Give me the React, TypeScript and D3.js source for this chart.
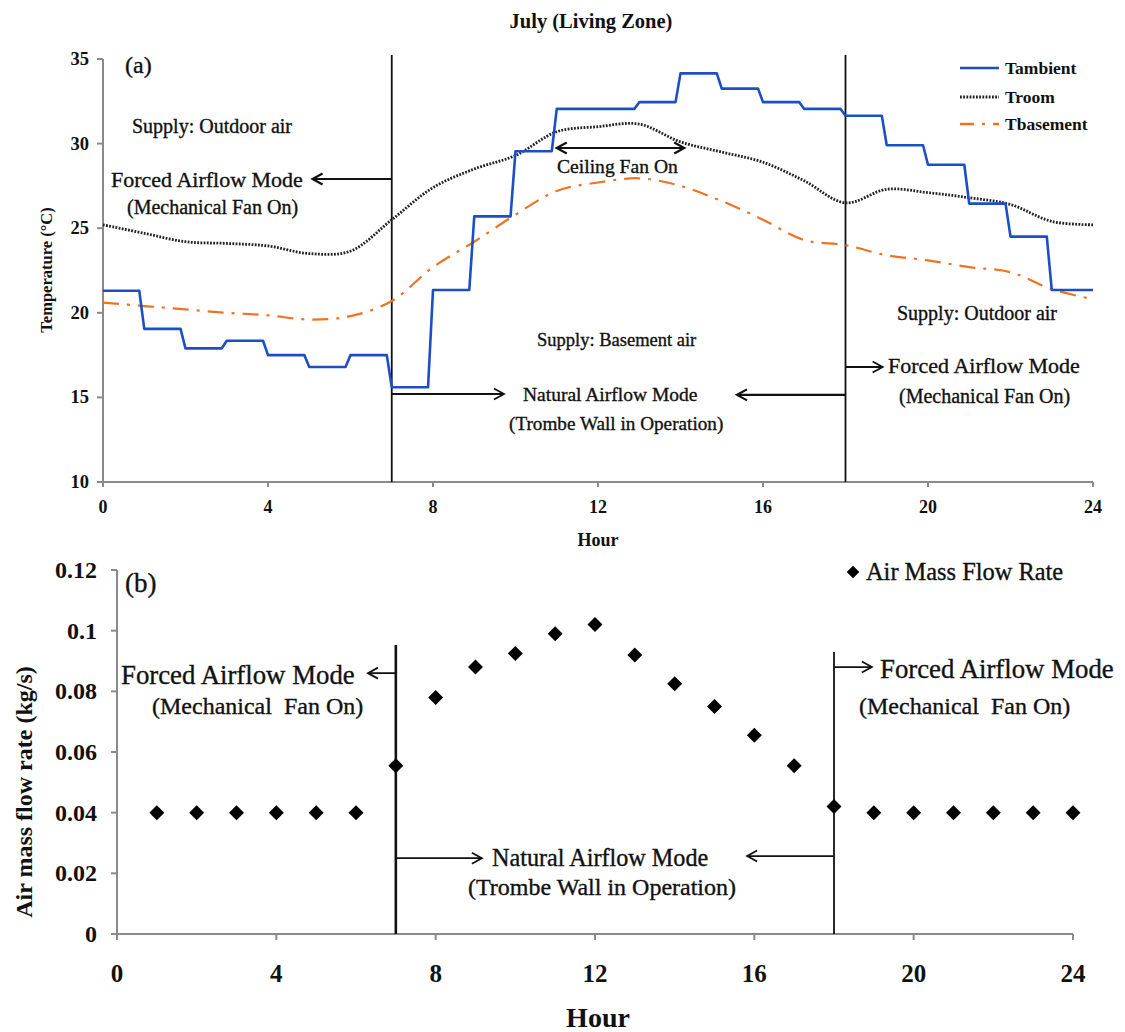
import React from 'react';
import * as d3 from 'd3';

// ---------- data ----------
const hourTicks = [0, 4, 8, 12, 16, 20, 24];
const tempTicks = [10, 15, 20, 25, 30, 35];
const flowTicks = [0, 0.02, 0.04, 0.06, 0.08, 0.1, 0.12];
const flowTickLabels = ['0', '0.02', '0.04', '0.06', '0.08', '0.1', '0.12'];

// hourly step values of ambient temperature (value held during hour h..h+1)
const stepHours = [0, 1, 2, 3, 4, 5, 6, 7, 8, 9, 10, 11, 12, 13, 14, 15, 16, 17, 18, 19, 20, 21, 22, 23];
const tAmbient = [21.3, 19.05, 17.9, 18.35, 17.5, 16.8, 17.5, 15.6, 21.35, 25.7, 29.55, 32.05, 32.05, 32.45, 34.15, 33.25, 32.45, 32.05, 31.65, 29.9, 28.75, 26.45, 24.5, 21.35];

const curveHours = [0, 1, 2, 3, 4, 5, 6, 7, 8, 9, 10, 11, 12, 13, 14, 15, 16, 17, 18, 19, 20, 21, 22, 23, 24];
const tRoom = [25.2, 24.7, 24.2, 24.1, 23.95, 23.5, 23.65, 25.5, 27.4, 28.5, 29.3, 30.7, 31.0, 31.15, 30.1, 29.5, 28.9, 27.8, 26.5, 27.3, 27.1, 26.8, 26.4, 25.4, 25.2];
const tBasement = [20.6, 20.4, 20.2, 20.0, 19.85, 19.6, 19.8, 20.7, 22.7, 24.2, 25.8, 27.2, 27.7, 27.95, 27.5, 26.6, 25.5, 24.3, 24.0, 23.4, 23.1, 22.7, 22.4, 21.4, 20.8];

const flowHours = [1, 2, 3, 4, 5, 6, 7, 8, 9, 10, 11, 12, 13, 14, 15, 16, 17, 18, 19, 20, 21, 22, 23, 24];
const flowRate = [0.04, 0.04, 0.04, 0.04, 0.04, 0.04, 0.0555, 0.078, 0.088, 0.0925, 0.099, 0.102, 0.092, 0.0825, 0.075, 0.0655, 0.0555, 0.042, 0.04, 0.04, 0.04, 0.04, 0.04, 0.04];

const modeSwitchHours = [7, 18];

// ---------- style ----------
const FONT = "'Liberation Serif', 'Times New Roman', serif";
const AXIS = '#8a8a8a';
const BLUE = '#1d4fc4';
const ORANGE = '#f07322';
const RAMP = 0.12;

const W = 1125;
const H = 1032;

// scales
const xA = d3.scaleLinear().domain([0, 24]).range([103, 1093]);
const yA = d3.scaleLinear().domain([10, 35]).range([482, 59]);
const xB = d3.scaleLinear().domain([0, 24]).range([117, 1073]);
const yB = d3.scaleLinear().domain([0, 0.12]).range([934, 570]);

const diamondType = {
  draw(ctx: any, size: number) {
    const r = Math.sqrt(size / 2);
    ctx.moveTo(0, -r);
    ctx.lineTo(r, 0);
    ctx.lineTo(0, r);
    ctx.lineTo(-r, 0);
    ctx.closePath();
  },
};

function Arrow({ x1, x2, y, double = false, w = 1.8 }: any) {
  const dir = Math.sign(x1 - x2);
  const hl = 10;
  const hw = 5.5;
  return (
    <g stroke="#111" strokeWidth={w} fill="none">
      <line x1={x1} x2={x2} y1={y} y2={y} />
      <polyline points={`${x2 + dir * hl},${y - hw} ${x2},${y} ${x2 + dir * hl},${y + hw}`} />
      {double && (
        <polyline points={`${x1 - dir * hl},${y - hw} ${x1},${y} ${x1 - dir * hl},${y + hw}`} />
      )}
    </g>
  );
}

function T({ x, y, size, bold = false, anchor = 'start', children, rotate = 0 }: any) {
  return (
    <text
      x={rotate ? 0 : x}
      y={rotate ? 0 : y}
      transform={rotate ? `translate(${x},${y}) rotate(${rotate})` : undefined}
      fontFamily={FONT}
      fontSize={size}
      fontWeight={bold ? 'bold' : 'normal'}
      textAnchor={anchor}
      fill="#111"
      stroke={bold ? 'none' : '#111'}
      strokeWidth={bold ? 0 : 0.35}
      style={{ whiteSpace: 'pre' }}
    >
      {children}
    </text>
  );
}

export default function App() {
  // ambient step path
  const ambPts: [number, number][] = [];
  stepHours.forEach((h, i) => {
    const v = tAmbient[i];
    ambPts.push([h, v]);
    ambPts.push([i === stepHours.length - 1 ? h + 1 : h + 1 - RAMP, v]);
  });
  const ambLine = d3
    .line<[number, number]>()
    .x((d) => xA(d[0]))
    .y((d) => yA(d[1]));

  const smooth = (vals: number[]) =>
    d3
      .line<number>()
      .x((_, i) => xA(curveHours[i]))
      .y((d) => yA(d))
      .curve(d3.curveCatmullRom.alpha(0.5))(vals) as string;

  const diamond = d3.symbol().type(diamondType as any).size(112);
  const diamondSmall = d3.symbol().type(diamondType as any).size(80);

  return (
    <svg
      width={W}
      height={H}
      viewBox={`0 0 ${W} ${H}`}
      style={{ position: 'absolute', left: 0, top: 0, background: '#fff' }}
    >
      <rect x={0} y={0} width={W} height={H} fill="#fff" />

      {/* ================= Panel (a) ================= */}
      <T x={591} y={28} size={20.5} bold anchor="middle">July (Living Zone)</T>

      {/* axes */}
      <g stroke={AXIS} strokeWidth={2}>
        <line x1={xA(0)} x2={xA(24)} y1={yA(10)} y2={yA(10)} />
        <line x1={xA(0)} x2={xA(0)} y1={yA(10)} y2={yA(35)} />
        {hourTicks.map((h) => (
          <line key={'xa' + h} x1={xA(h)} x2={xA(h)} y1={yA(10)} y2={yA(10) + 5} />
        ))}
        {tempTicks.map((t) => (
          <line key={'ya' + t} x1={xA(0) - 6} x2={xA(0)} y1={yA(t)} y2={yA(t)} />
        ))}
      </g>
      {hourTicks.map((h) => (
        <T key={'xal' + h} x={xA(h)} y={513} size={18} bold anchor="middle">{String(h)}</T>
      ))}
      {tempTicks.map((t) => (
        <T key={'yal' + t} x={89} y={yA(t) + 6} size={18.5} bold anchor="end">{String(t)}</T>
      ))}
      <T x={598} y={546} size={18} bold anchor="middle">Hour</T>
      <T x={52} y={270} size={16.5} bold anchor="middle" rotate={-90}>Temperature (°C)</T>

      {/* mode switch lines */}
      {modeSwitchHours.map((h) => (
        <line key={'va' + h} x1={xA(h)} x2={xA(h)} y1={55} y2={yA(10)} stroke="#111" strokeWidth={1.8} />
      ))}

      {/* series */}
      <path d={smooth(tBasement)} fill="none" stroke={ORANGE} strokeWidth={2.2} strokeDasharray="16 8 3 8" />
      <path d={smooth(tRoom)} fill="none" stroke="#222" strokeWidth={2.8} strokeDasharray="1.8 1.4" />
      <path d={ambLine(ambPts) as string} fill="none" stroke={BLUE} strokeWidth={2.6} strokeLinejoin="round" />

      {/* legend (a) */}
      <line x1={960} x2={999} y1={68} y2={68} stroke={BLUE} strokeWidth={2.6} />
      <line x1={960} x2={999} y1={97} y2={97} stroke="#222" strokeWidth={2.8} strokeDasharray="1.8 1.4" />
      <line x1={960} x2={999} y1={124} y2={124} stroke={ORANGE} strokeWidth={2.4} strokeDasharray="14 8 3 8" />
      <T x={1005} y={74} size={17.5} bold>Tambient</T>
      <T x={1005} y={103} size={17.5} bold>Troom</T>
      <T x={1005} y={130} size={17.5} bold>Tbasement</T>

      {/* annotations (a) */}
      <T x={125} y={73} size={24}>(a)</T>
      <T x={132} y={133} size={20}>Supply: Outdoor air</T>
      <T x={111} y={187} size={22}>Forced Airflow Mode</T>
      <T x={127} y={214} size={20}>(Mechanical Fan On)</T>
      <Arrow x1={xA(7)} x2={xA(5.08)} y={179} w={2.2} />

      <Arrow x1={xA(11.0)} x2={xA(14.09)} y={148} double w={2.2} />
      <T x={557} y={173} size={19.6}>Ceiling Fan On</T>

      <T x={537} y={346} size={18.5}>Supply: Basement air</T>
      <T x={523} y={401} size={19.5}>Natural Airflow Mode</T>
      <T x={509} y={430} size={19.2}>(Trombe Wall in Operation)</T>
      <Arrow x1={xA(7)} x2={xA(9.72)} y={yA(15.2)} />
      <Arrow x1={xA(18)} x2={xA(15.37)} y={yA(15.15)} w={2.2} />

      <T x={897} y={320} size={20}>Supply: Outdoor air</T>
      <T x={888} y={373} size={22}>Forced Airflow Mode</T>
      <T x={899} y={403} size={20}>(Mechanical Fan On)</T>
      <Arrow x1={xA(18)} x2={xA(18.9)} y={367} />

      {/* ================= Panel (b) ================= */}
      <g stroke={AXIS} strokeWidth={2}>
        <line x1={xB(0)} x2={xB(24)} y1={yB(0)} y2={yB(0)} />
        <line x1={xB(0)} x2={xB(0)} y1={yB(0)} y2={yB(0.12)} />
        {hourTicks.map((h) => (
          <line key={'xb' + h} x1={xB(h)} x2={xB(h)} y1={yB(0)} y2={yB(0) + 6} />
        ))}
        {flowTicks.map((t) => (
          <line key={'yb' + t} x1={xB(0) - 6} x2={xB(0)} y1={yB(t)} y2={yB(t)} />
        ))}
      </g>
      {hourTicks.map((h) => (
        <T key={'xbl' + h} x={xB(h)} y={982} size={25} bold anchor="middle">{String(h)}</T>
      ))}
      {flowTicks.map((t, i) => (
        <T key={'ybl' + t} x={97} y={yB(t) + 8} size={24} bold anchor="end">{flowTickLabels[i]}</T>
      ))}
      <T x={598} y={1027} size={28} bold anchor="middle">Hour</T>
      <T x={32} y={792} size={24} bold anchor="middle" rotate={-90}>Air mass flow rate (kg/s)</T>

      {modeSwitchHours.map((h, i) => (
        <line key={'vb' + h} x1={xB(h)} x2={xB(h)} y1={i === 0 ? 645 : 652} y2={yB(0)} stroke="#111" strokeWidth={i === 0 ? 2.6 : 1.8} />
      ))}

      {flowHours.map((h, i) => (
        <path key={'d' + h} d={diamond() as string} transform={`translate(${xB(h)},${yB(flowRate[i])})`} fill="#000" />
      ))}

      {/* legend (b) */}
      <path d={diamondSmall() as string} transform="translate(853,572)" fill="#000" />
      <T x={866} y={580} size={24.4}>Air Mass Flow Rate</T>

      {/* annotations (b) */}
      <T x={125} y={592} size={27}>(b)</T>
      <T x={121} y={684} size={26.8}>Forced Airflow Mode</T>
      <T x={152} y={714} size={24}>(Mechanical  Fan On)</T>
      <Arrow x1={xB(7)} x2={xB(6.3)} y={yB(0.086)} />

      <T x={492} y={866} size={24.2}>Natural Airflow Mode</T>
      <T x={468} y={895} size={24}>(Trombe Wall in Operation)</T>
      <Arrow x1={xB(7)} x2={xB(9.16)} y={yB(0.025)} />
      <Arrow x1={xB(18)} x2={xB(15.82)} y={yB(0.0257)} />

      <T x={880} y={678} size={26.8}>Forced Airflow Mode</T>
      <T x={859} y={714} size={24}>(Mechanical  Fan On)</T>
      <Arrow x1={xB(18)} x2={xB(18.95)} y={yB(0.088)} />
    </svg>
  );
}
